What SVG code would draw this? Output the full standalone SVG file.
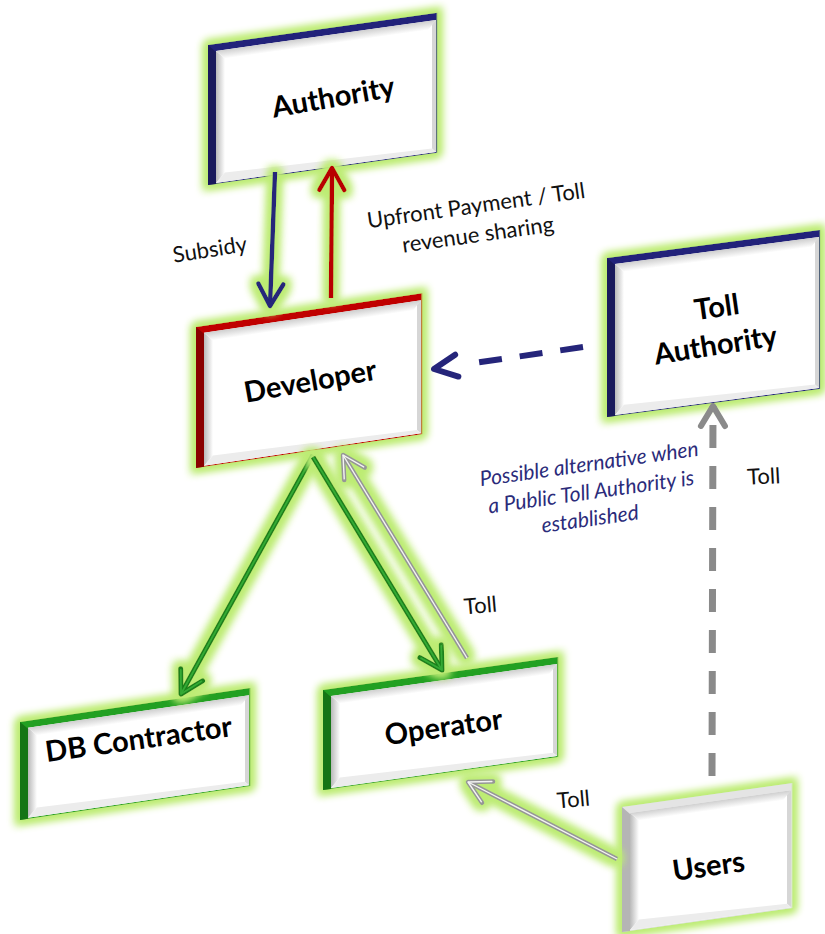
<svg xmlns="http://www.w3.org/2000/svg" width="825" height="934" viewBox="0 0 825 934">
<style>
.lbl{font-family:Lato,"Liberation Sans",sans-serif;font-weight:bold;font-size:29px;fill:#000;text-anchor:middle}
.txt{font-family:Lato,"Liberation Sans",sans-serif;font-size:22px;fill:#111;text-anchor:middle}
.ital{font-family:Lato,"Liberation Sans",sans-serif;font-style:italic;font-size:21px;fill:#2b2b7a;text-anchor:middle}
.face{fill:#fff}
.bvl{fill:url(#bvH)}
.bvt{fill:url(#bvV)}
.bvr{fill:#d6d6d6}
.bvb{fill:#ececec}
</style>
<defs>
<linearGradient id="bvH" x1="0" y1="0" x2="1" y2="0"><stop offset="0" stop-color="#b9b9b9"/><stop offset="1" stop-color="#ffffff"/></linearGradient>
<linearGradient id="bvV" x1="0" y1="0" x2="0" y2="1"><stop offset="0" stop-color="#cfcfcf"/><stop offset="1" stop-color="#ffffff"/></linearGradient>
<filter id="glow" x="-30%" y="-30%" width="160%" height="160%">
<feMorphology in="SourceAlpha" operator="dilate" radius="4" result="d"/>
<feGaussianBlur in="d" stdDeviation="4" result="b"/>
<feFlood flood-color="#bdec74"/>
<feComposite in2="b" operator="in" result="g"/>
<feMerge><feMergeNode in="g"/><feMergeNode in="g"/><feMergeNode in="SourceGraphic"/></feMerge>
</filter>
<filter id="glowL" filterUnits="userSpaceOnUse" x="0" y="0" width="825" height="934">
<feMorphology in="SourceAlpha" operator="dilate" radius="4" result="d"/>
<feGaussianBlur in="d" stdDeviation="4" result="b"/>
<feFlood flood-color="#bdec74"/>
<feComposite in2="b" operator="in" result="g"/>
<feMerge><feMergeNode in="g"/><feMergeNode in="g"/><feMergeNode in="SourceGraphic"/></feMerge>
</filter>
<marker id="mNavy" markerUnits="userSpaceOnUse" orient="auto" viewBox="-30 -20 40 40" markerWidth="40" markerHeight="40" refX="0" refY="0" overflow="visible">
<path d="M-22,-12.5 L0,0 L-22,12.5" fill="none" stroke="#25257a" stroke-width="4.5" stroke-linecap="round" stroke-linejoin="round"/>
</marker>
<marker id="mRed" markerUnits="userSpaceOnUse" orient="auto" viewBox="-30 -20 40 40" markerWidth="40" markerHeight="40" refX="0" refY="0" overflow="visible">
<path d="M-22,-12.5 L0,0 L-22,12.5" fill="none" stroke="#b80000" stroke-width="4.5" stroke-linecap="round" stroke-linejoin="round"/>
</marker>
<marker id="mGreen" markerUnits="userSpaceOnUse" orient="auto" viewBox="-30 -20 40 40" markerWidth="40" markerHeight="40" refX="0" refY="0" overflow="visible">
<path d="M-22,-12.5 L0,0 L-22,12.5" fill="none" stroke="#1a801a" stroke-width="5" stroke-linecap="round" stroke-linejoin="round"/>
<path d="M-21,-11.8 L0,0 L-21,11.8" fill="none" stroke="#35aa35" stroke-width="1.8" stroke-linecap="round" stroke-linejoin="round"/>
</marker>
<marker id="mGrey" markerUnits="userSpaceOnUse" orient="auto" viewBox="-30 -20 40 40" markerWidth="40" markerHeight="40" refX="0" refY="0" overflow="visible">
<path d="M-22,-12 L0,0 L-22,12" fill="none" stroke="#969696" stroke-width="4.5" stroke-linecap="round" stroke-linejoin="round"/>
<path d="M-21,-11.4 L0,0 L-21,11.4" fill="none" stroke="#f4f4f4" stroke-width="1.4" stroke-linecap="round" stroke-linejoin="round"/>
</marker>
<marker id="mNavyD" markerUnits="userSpaceOnUse" orient="auto" viewBox="-30 -20 40 40" markerWidth="40" markerHeight="40" refX="0" refY="0" overflow="visible">
<path d="M-23,-11 L0,0 L-23,11" fill="none" stroke="#25257a" stroke-width="6" stroke-dasharray="none" stroke-linecap="round" stroke-linejoin="round"/>
</marker>
<marker id="mGreyD" markerUnits="userSpaceOnUse" orient="auto" viewBox="-30 -20 40 40" markerWidth="40" markerHeight="40" refX="0" refY="0" overflow="visible">
<path d="M-20,-12 L0,0 L-20,12" fill="none" stroke="#8a8a8a" stroke-width="6" stroke-dasharray="none" stroke-linecap="round" stroke-linejoin="round"/>
</marker>
</defs>
<rect width="825" height="934" fill="#fff"/>

<!-- Nodes -->
<g id="authority">
<g transform="translate(208,45) skewY(-8)">
<rect width="229" height="140" fill="#24247a" filter="url(#glow)"/>
<polygon points="0,0 8,8 8,140 0,140" fill="#1a1a5c"/>
<rect class="face" x="8" y="7" width="220" height="132"/>
<polygon class="bvl" points="8,7 17,16 17,130 8,139"/>
<polygon class="bvt" points="8,7 228,7 220,16 17,16"/>
<polygon class="bvr" points="228,7 228,139 224,135 224,11"/>
<polygon class="bvb" points="8,139 228,139 224,135 17,130"/>
</g>
<text class="lbl" transform="translate(335,107) rotate(-10)">Authority</text>
</g>

<g id="developer">
<g transform="translate(196,327) skewY(-8.5)">
<rect width="226" height="141" fill="#c00000" filter="url(#glow)"/>
<polygon points="0,0 8,8 8,141 0,141" fill="#8a0000"/>
<rect class="face" x="8" y="7" width="217" height="133"/>
<polygon class="bvl" points="8,7 17,16 17,131 8,140"/>
<polygon class="bvt" points="8,7 225,7 217,16 17,16"/>
<polygon class="bvr" points="225,7 225,140 221,136 221,11"/>
<polygon class="bvb" points="8,140 225,140 221,136 17,131"/>
</g>
<text class="lbl" transform="translate(312,391) rotate(-10)">Developer</text>
</g>

<g id="toll-authority">
<g transform="translate(607,258) skewY(-7.5)">
<rect width="213" height="159" fill="#24247a" filter="url(#glow)"/>
<polygon points="0,0 8,8 8,159 0,159" fill="#1a1a5c"/>
<rect class="face" x="8" y="7" width="204" height="151"/>
<polygon class="bvl" points="8,7 17,16 17,149 8,158"/>
<polygon class="bvt" points="8,7 212,7 204,16 17,16"/>
<polygon class="bvr" points="212,7 212,158 208,154 208,11"/>
<polygon class="bvb" points="8,158 212,158 208,154 17,149"/>
</g>
<text class="lbl" transform="translate(718,317) rotate(-8)">Toll</text>
<text class="lbl" transform="translate(717,355) rotate(-9)">Authority</text>
</g>

<g id="db-contractor">
<g transform="translate(20,722) skewY(-8.4)">
<rect width="230" height="98" fill="#20a020" filter="url(#glow)"/>
<polygon points="0,0 8,8 8,98 0,98" fill="#157515"/>
<rect class="face" x="8" y="7" width="221" height="90"/>
<polygon class="bvl" points="8,7 17,16 17,88 8,97"/>
<polygon class="bvt" points="8,7 229,7 221,16 17,16"/>
<polygon class="bvr" points="229,7 229,97 225,93 225,11"/>
<polygon class="bvb" points="8,97 229,97 225,93 17,88"/>
</g>
<text class="lbl" transform="translate(140,749) rotate(-8)">DB Contractor</text>
</g>

<g id="operator">
<g transform="translate(323,690) skewY(-8)">
<rect width="235" height="100" fill="#20a020" filter="url(#glow)"/>
<polygon points="0,0 8,8 8,100 0,100" fill="#157515"/>
<rect class="face" x="8" y="7" width="226" height="92"/>
<polygon class="bvl" points="8,7 17,16 17,90 8,99"/>
<polygon class="bvt" points="8,7 234,7 226,16 17,16"/>
<polygon class="bvr" points="234,7 234,99 230,95 230,11"/>
<polygon class="bvb" points="8,99 234,99 230,95 17,90"/>
</g>
<text class="lbl" transform="translate(445,737) rotate(-8)">Operator</text>
</g>

<g id="users">
<g transform="translate(622,807) skewY(-8)">
<rect width="170" height="125" fill="#e4e4e4" filter="url(#glow)"/>
<polygon points="0,0 8,8 8,125 0,125" fill="#b5b5b5"/>
<rect class="face" x="8" y="7" width="161" height="117"/>
<polygon class="bvl" points="8,7 17,16 17,115 8,124"/>
<polygon class="bvt" points="8,7 169,7 161,16 17,16"/>
<polygon class="bvr" points="169,7 169,124 165,120 165,11"/>
<polygon class="bvb" points="8,124 169,124 165,120 17,115"/>
</g>
<text class="lbl" transform="translate(710,876) rotate(-8)">Users</text>
</g>

<!-- Connectors -->
<g id="connectors" fill="none">
<g filter="url(#glowL)">
<path d="M275,172 L270,306" stroke="#25257a" stroke-width="4.5" marker-end="url(#mNavy)"/>
</g>
<g filter="url(#glowL)">
<path d="M331,298 L332,168" stroke="#b80000" stroke-width="4.5" marker-end="url(#mRed)"/>
</g>
<g filter="url(#glowL)">
<path d="M313,455 L181,694" stroke="#1a801a" stroke-width="5" marker-end="url(#mGreen)"/>
<path d="M313,455 L181,694" stroke="#35aa35" stroke-width="1.8"/>
</g>
<g filter="url(#glowL)">
<path d="M313,457 L442,670" stroke="#1a801a" stroke-width="5" marker-end="url(#mGreen)"/>
<path d="M313,457 L442,670" stroke="#35aa35" stroke-width="1.8"/>
</g>
<g filter="url(#glowL)">
<path d="M467,658 L343,455" stroke="#969696" stroke-width="4.5" marker-end="url(#mGrey)"/>
<path d="M467,658 L343,455" stroke="#f4f4f4" stroke-width="1.4"/>
</g>
<g filter="url(#glowL)">
<path d="M617,859 L468,782" stroke="#969696" stroke-width="4.5" marker-end="url(#mGrey)"/>
<path d="M617,859 L468,782" stroke="#f4f4f4" stroke-width="1.4"/>
</g>
<path d="M583,347 L434,369" stroke="#25257a" stroke-width="6" stroke-dasharray="23 18 23 18 23 60" marker-end="url(#mNavyD)"/>
<path d="M712,776 L713,406" stroke="#8a8a8a" stroke-width="7" stroke-dasharray="23 18" marker-end="url(#mGreyD)"/>
</g>

<!-- Labels -->
<text class="txt" transform="translate(211,257) rotate(-9)">Subsidy</text>
<text class="txt" transform="translate(477,213) rotate(-8)">Upfront Payment / Toll</text>
<text class="txt" transform="translate(479,242) rotate(-8)">revenue sharing</text>
<text class="txt" transform="translate(481,613) rotate(-5)">Toll</text>
<text class="txt" transform="translate(764,484) rotate(-3)">Toll</text>
<text class="txt" transform="translate(574,807) rotate(-5)">Toll</text>
<text class="ital" transform="translate(590,471) rotate(-8)">Possible alternative when</text>
<text class="ital" transform="translate(592,499) rotate(-8)">a Public Toll Authority is</text>
<text class="ital" transform="translate(591,526) rotate(-8)">established</text>
</svg>
